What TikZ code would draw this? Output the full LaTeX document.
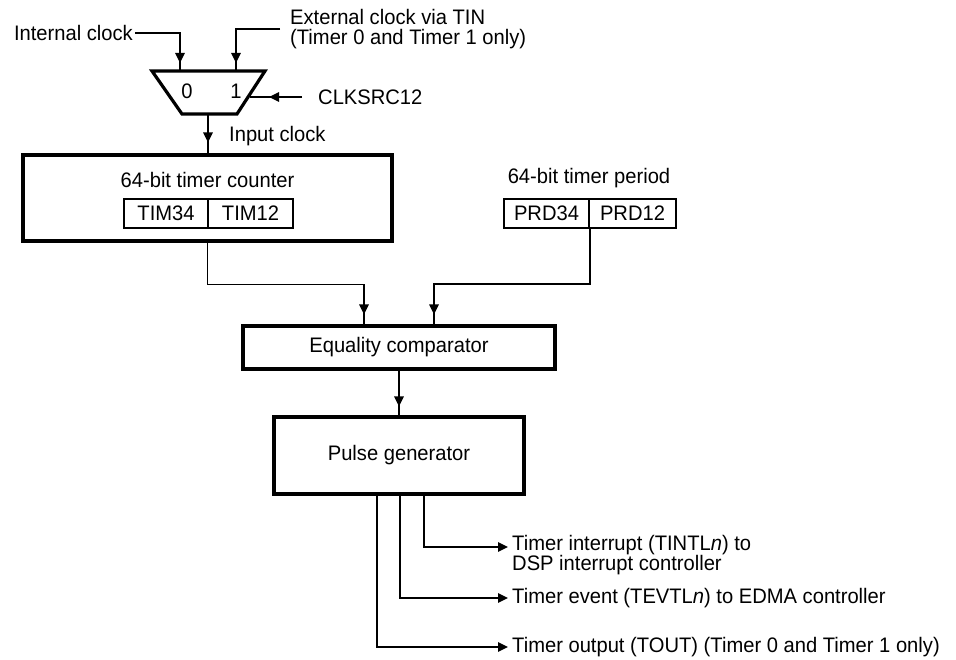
\documentclass[tikz,border=0pt]{standalone}
\usepackage{fontspec}
\setmainfont[FakeStretch=0.96]{Liberation Sans}
\usetikzlibrary{arrows.meta,decorations.markings,calc}
\begin{document}
\begin{tikzpicture}[x=1pt,y=-1pt,
  font=\fontsize{21}{20}\selectfont,
  ftri/.tip={Triangle[length=10pt,width=9.5pt]},
  wire/.style={draw, line width=1.3pt},
  heavy/.style={draw, line width=3.2pt, line join=miter},
  block/.style={heavy, rectangle, inner sep=0pt},
  reg/.style={draw, line width=2pt, rectangle, inner sep=0pt, minimum height=29pt},
  txt/.style={inner sep=0pt},
  arrowat/.style={postaction={decorate},
    decoration={markings, mark=at position #1 with {\arrow{ftri}}}},
  outwire/.style={wire, -{ftri}}
]
\useasboundingbox[fill=white] (0,0) rectangle (956,660);

% clock multiplexer
\draw[heavy] (152,71) -- (265,71) -- (237,114) -- (182,114) -- cycle;
\coordinate (mux0) at (180,71);
\coordinate (mux1) at (236,71);
\coordinate (muxsel) at (250,97);
\coordinate (muxout) at (208,114);
\node[txt] (sel0) at (187,91) {0};
\node[txt] (sel1) at (236,91) {1};

% clock sources
\node[txt, anchor=east, inner xsep=2pt] (intclk) at (135,33) {Internal clock};
\node[txt, anchor=west, inner xsep=10pt, align=left] (extclk) at (280,29)
  {External clock via TIN\\(Timer 0 and Timer 1 only)};
\node[txt, anchor=west, inner xsep=16pt] (clksrc) at (302,97) {CLKSRC12};
\draw[wire, arrowat=-8pt] (intclk.east) -| (mux0);
\draw[wire, arrowat=-8pt] (extclk.west) -| (mux1);
\draw[wire, arrowat=-19pt] (clksrc.west) -- (muxsel);

% timer counter
\node[block, minimum width=369pt, minimum height=86pt] (cnt) at (207.5,198) {};
\node[txt] (cnttitle) at (207.5,180) {64-bit timer counter};
\node[reg, minimum width=84pt] (tim34) at (166,213.5) {TIM34};
\node[reg, minimum width=85pt] (tim12) at (250.5,213.5) {TIM12};
\draw[wire, arrowat=-11pt] (muxout) -- (muxout |- cnt.north);
\node[txt, anchor=west] (inclk) at (229,136) {Input clock};

% timer period
\node[txt] (prdtitle) at (589,178) {64-bit timer period};
\node[reg, minimum width=85pt] (prd34) at (546.5,213.5) {PRD34};
\node[reg, minimum width=87pt] (prd12) at (632.5,213.5) {PRD12};

% comparator and pulse generator
\node[block, minimum width=312pt, minimum height=43pt] (cmp) at (399,347.5) {Equality comparator};
\node[block, minimum width=250pt, minimum height=77pt] (pg) at (399,455.5) {Pulse generator};

\draw[wire, arrowat=-10pt] (cnt.south) -- ++(0,42) -| ([xshift=-35pt]cmp.north);
\draw[wire, arrowat=-10pt] (prd34.south east) -- ++(0,55) -| ([xshift=35pt]cmp.north);
\draw[wire, arrowat=-9pt] (cmp.south) -- (pg.north);

% outputs
\node[txt, anchor=west, align=left] (tint) at (512,555)
  {Timer interrupt (TINTL\textit{n}) to\\DSP interrupt controller};
\coordinate (tintin) at (508,547);
\node[txt, anchor=west, inner xsep=4pt] (tevt) at (508,598)
  {Timer event (TEVTL\textit{n}) to EDMA controller};
\node[txt, anchor=west, inner xsep=4pt] (tout) at (508,647)
  {Timer output (TOUT) (Timer 0 and Timer 1 only)};
\draw[outwire] ([xshift=25pt]pg.south) |- (tintin);
\draw[outwire] ([xshift=1pt]pg.south) |- (tevt.west);
\draw[outwire] ([xshift=-22pt]pg.south) |- (tout.west);
\end{tikzpicture}
\end{document}
